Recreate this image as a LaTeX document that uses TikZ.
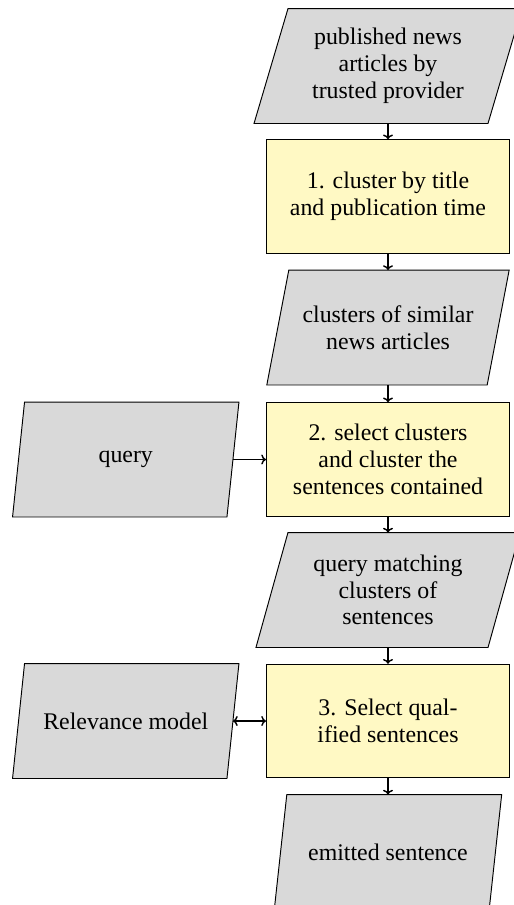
\documentclass[tikz,border=0pt]{standalone}
\usepackage{fontspec}
\setmainfont{Liberation Serif}
\usetikzlibrary{calc,backgrounds,arrows.meta}

\definecolor{iogray}{RGB}{217,217,217}
\definecolor{stepyellow}{RGB}{255,249,196}

\tikzset{
  every node/.style={font=\rmfamily\fontsize{10}{11.24}\selectfont, align=center, inner sep=0pt},
  stepbox/.style={rectangle, draw=black, fill=stepyellow, line width=0.4pt,
    minimum width=101.9pt, minimum height=47.6pt},
  iobody/.style={rectangle, minimum width=#1, minimum height=47.8pt},
  ioframe/.style={draw=black, fill=iogray, line width=0.4pt},
  flow/.style={-{To[length=2pt,width=4.2pt]}, line width=0.6pt},
  flowboth/.style={{To[length=2pt,width=4.2pt]}-{To[length=2pt,width=4.2pt]}, line width=0.6pt},
}

% parallelogram behind a named node; #2 is half the horizontal slant
\newcommand{\ioshape}[2]{%
  \filldraw[ioframe]
    ($(#1.south west)+(-#2,0)$) -- ($(#1.north west)+(#2,0)$) --
    ($(#1.north east)+(#2,0)$) -- ($(#1.south east)+(-#2,0)$) -- cycle;}

\begin{document}
\begin{tikzpicture}[x=0.4193pt, y=-0.4193pt]
\useasboundingbox (0,0) rectangle (513,905);
\clip (0,0) rectangle (513,905);

% data (parallelogram) nodes
\node[iobody=97.7pt] (src) at (388,66) {published news\\articles by\\trusted provider};
\node[iobody=92.0pt] (clu) at (388,327.5) {clusters of similar\\news articles};
\node[iobody=96.9pt] (qmc) at (388,590) {query matching\\clusters of\\sentences};
\node[iobody=89.7pt] (out) at (388,852) {emitted sentence};
\node[iobody=89.5pt] (qry) at (125.75,459.5) {query};
\node[iobody=89.5pt] (rel) at (125.75,721) {Relevance model};

% processing steps
\node[stepbox] (s1) at (388,196.5) {1. cluster by title\\and publication time};
\node[stepbox] (s2) at (388,459.5) {2. select clusters\\and cluster the\\sentences contained};
\node[stepbox] (s3) at (388,721) {3. Select qual-\\ified sentences};

\begin{scope}[on background layer]
  \ioshape{src}{17}
  \ioshape{clu}{11}
  \ioshape{qmc}{16}
  \ioshape{out}{6.25}
  \ioshape{qry}{6}
  \ioshape{rel}{6}
\end{scope}

% connectors
\draw[flow] (src.south) -- (s1.north);
\draw[flow] (s1.south) -- (clu.north);
\draw[flow] (clu.south) -- (s2.north);
\draw[flow] (qry.east) -- (s2.west);
\draw[flow] (s2.south) -- (qmc.north);
\draw[flow] (qmc.south) -- (s3.north);
\draw[flowboth] (rel.east) -- (s3.west);
\draw[flow] (s3.south) -- (out.north);
\end{tikzpicture}
\end{document}
